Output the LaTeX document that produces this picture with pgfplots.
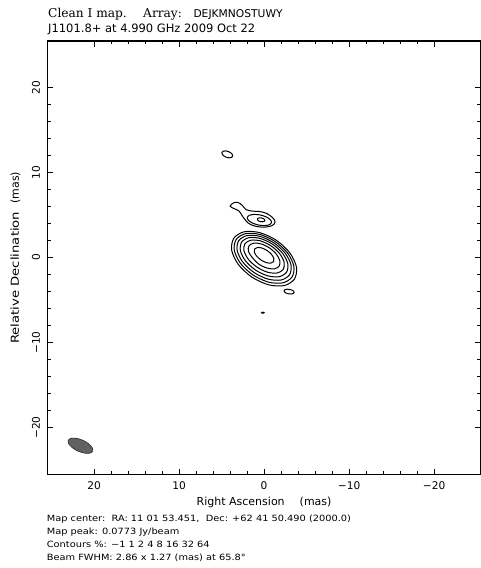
\documentclass[border=0pt]{standalone}
\usepackage{fontspec}
\setmainfont{DejaVu Sans}
\newfontfamily\serifT{DejaVu Serif}
\newfontfamily\wide[FakeStretch=1.2]{DejaVu Sans}
\newfontfamily\foot[FakeStretch=1.14]{DejaVu Sans}
\usepackage{pgfplots}
\pgfplotsset{compat=1.18}
\begin{document}
\begin{tikzpicture}
\useasboundingbox (-47.3pt,-93.3pt) rectangle (432.7pt,474.7pt);
\begin{axis}[
  at={(0pt,0pt)}, anchor=south west,
  scale only axis, width=433.6pt, height=433.7pt,
  x dir=reverse,
  xmin=-25.5, xmax=25.5, ymin=-25.55, ymax=25.45,
  xtick={-20,-10,0,10,20}, ytick={-20,-10,0,10,20},
  xticklabels={−20,−10,0,10,20}, yticklabels={−20,−10,0,10,20},
  minor x tick num=4, minor y tick num=4,
  tick align=inside,
  major tick length=6pt, minor tick length=3.5pt,
  every tick/.style={black, line width=1pt},
  axis line style={line width=1.4pt},
  tick label style={font=\fontsize{10.6}{12}\selectfont},
  xticklabel style={anchor=base}, xticklabel shift=14.6pt,
  yticklabel style={rotate=90, anchor=base}, yticklabel shift=7.3pt,
  label style={font=\fontsize{11}{13}\selectfont},
  xlabel={Right Ascension\hspace{15pt}(mas)},
  ylabel={{\wide Relative Declination}\hspace{8pt}(mas)},
  xlabel style={at={(axis description cs:0.5,-0.0706)}, anchor=base},
  ylabel style={at={(axis description cs:-0.0653,0.5)}, anchor=base, rotate=0},
  clip=false,
  every axis plot/.append style={black, line width=1pt, mark=none},
]
% core contours 1% ... 64%
\addplot[smooth cycle] coordinates {(3.565,2.255) (2.360,3.011) (0.524,2.919) (-1.454,2.005) (-3.042,0.513) (-3.814,-1.155) (-3.565,-2.555) (-2.360,-3.311) (-0.524,-3.219) (1.454,-2.305) (3.042,-0.813) (3.814,0.855)};
\addplot[smooth cycle] coordinates {(3.283,2.114) (2.183,2.795) (0.499,2.701) (-1.320,1.856) (-2.785,0.487) (-3.503,-1.039) (-3.283,-2.314) (-2.183,-2.995) (-0.499,-2.901) (1.320,-2.056) (2.785,-0.687) (3.503,0.839)};
\addplot[smooth cycle] coordinates {(2.984,1.973) (1.997,2.574) (0.475,2.475) (-1.174,1.701) (-2.509,0.461) (-3.171,-0.912) (-2.984,-2.053) (-1.997,-2.654) (-0.475,-2.555) (1.174,-1.781) (2.509,-0.541) (3.171,0.832)};
\addplot[smooth cycle] coordinates {(2.636,1.808) (1.774,2.325) (0.436,2.226) (-1.018,1.539) (-2.200,0.448) (-2.792,-0.755) (-2.636,-1.748) (-1.774,-2.265) (-0.436,-2.166) (1.018,-1.479) (2.200,-0.388) (2.792,0.815)};
\addplot[smooth cycle] coordinates {(2.247,1.615) (1.526,2.034) (0.397,1.935) (-0.839,1.344) (-1.851,0.419) (-2.366,-0.590) (-2.247,-1.415) (-1.526,-1.834) (-0.397,-1.735) (0.839,-1.144) (1.851,-0.219) (2.366,0.790)};
\addplot[smooth cycle] coordinates {(1.774,1.367) (1.217,1.680) (0.335,1.587) (-0.637,1.115) (-1.439,0.389) (-1.855,-0.394) (-1.774,-1.027) (-1.217,-1.340) (-0.335,-1.247) (0.637,-0.775) (1.439,0.049) (1.855,0.734)};
\addplot[smooth cycle] coordinates {(1.111,0.999) (0.777,1.173) (0.236,1.099) (-0.369,0.797) (-0.876,0.349) (-1.147,-0.125) (-1.111,-0.499) (-0.777,-0.673) (-0.236,-0.599) (0.369,-0.297) (0.876,0.151) (1.147,0.625)};
% jet component
\addplot[smooth cycle] coordinates {(4.00,6.04) (3.53,6.45) (3.06,6.45) (2.59,6.15) (2.12,5.62) (1.41,5.45) (0.47,5.39) (-0.35,5.15) (-1.06,4.62) (-1.29,4.15) (-0.94,3.74) (0.00,3.56) (1.06,3.68) (1.88,4.04) (2.47,4.74) (2.94,5.45) (3.53,5.74)};
\addplot[smooth cycle] coordinates {(1.968,4.702) (1.715,4.956) (1.151,5.059) (0.425,4.987) (-0.267,4.757) (-0.741,4.432) (-0.868,4.098) (-0.615,3.844) (-0.051,3.741) (0.675,3.813) (1.367,4.043) (1.841,4.368)};
\addplot[smooth cycle] coordinates {(0.793,4.498) (0.715,4.597) (0.539,4.647) (0.312,4.637) (0.095,4.569) (-0.053,4.461) (-0.093,4.342) (-0.015,4.243) (0.161,4.193) (0.388,4.203) (0.605,4.271) (0.753,4.379)};
% small features
\addplot[smooth cycle] coordinates {(4.960,12.349) (4.814,12.487) (4.538,12.528) (4.207,12.458) (3.908,12.298) (3.722,12.091) (3.700,11.891) (3.846,11.753) (4.122,11.712) (4.453,11.782) (4.752,11.942) (4.938,12.149)};
\addplot[smooth cycle] coordinates {(-2.349,-3.916) (-2.452,-3.797) (-2.685,-3.738) (-2.987,-3.754) (-3.277,-3.842) (-3.476,-3.977) (-3.531,-4.124) (-3.428,-4.243) (-3.195,-4.302) (-2.893,-4.286) (-2.603,-4.198) (-2.404,-4.063)};
\addplot[smooth cycle, fill=black] coordinates {(0.30,-6.50) (0.25,-6.46) (0.15,-6.44) (0.05,-6.46) (0.00,-6.50) (0.05,-6.54) (0.15,-6.56) (0.25,-6.54)};
% beam
\addplot[smooth cycle, fill=black!62, draw=black!85, line width=0.6pt] coordinates {(23.032,-21.496) (22.696,-21.263) (22.067,-21.265) (21.313,-21.502) (20.635,-21.909) (20.216,-22.379) (20.168,-22.784) (20.504,-23.017) (21.133,-23.015) (21.887,-22.778) (22.565,-22.371) (22.984,-21.901)};
\end{axis}
% titles
\node[anchor=base west, inner sep=0pt, font=\fontsize{12.2}{14}\selectfont\serifT] at (0.7pt,456.9pt) {Clean I map.};
\node[anchor=base west, inner sep=0pt, font=\fontsize{12.2}{14}\selectfont\serifT] at (95.7pt,456.9pt) {Array:};
\node[anchor=base west, inner sep=0pt, font=\fontsize{10.7}{14}\selectfont] at (146pt,456.9pt) {DEJKMNOSTUWY};
\node[anchor=base west, inner sep=0pt, font=\fontsize{11.5}{14}\selectfont] at (0.7pt,441.9pt) {J1101.8+ at 4.990 GHz 2009 Oct 22};
% footer
\node[anchor=base west, inner sep=0pt, font=\fontsize{8.6}{10}\selectfont\foot] at (-0.6pt,-47.0pt) {Map center:\ \ RA: 11 01 53.451,\ \ Dec: +62 41 50.490 (2000.0)};
\node[anchor=base west, inner sep=0pt, font=\fontsize{8.6}{10}\selectfont\foot] at (-0.6pt,-59.6pt) {Map peak: 0.0773 Jy/beam};
\node[anchor=base west, inner sep=0pt, font=\fontsize{8.6}{10}\selectfont\foot] at (-0.6pt,-72.6pt) {Contours \%: −1 1 2 4 8 16 32 64};
\node[anchor=base west, inner sep=0pt, font=\fontsize{8.6}{10}\selectfont\foot] at (-0.6pt,-85.3pt) {Beam FWHM: 2.86 x 1.27 (mas) at 65.8°};
\end{tikzpicture}
\end{document}
